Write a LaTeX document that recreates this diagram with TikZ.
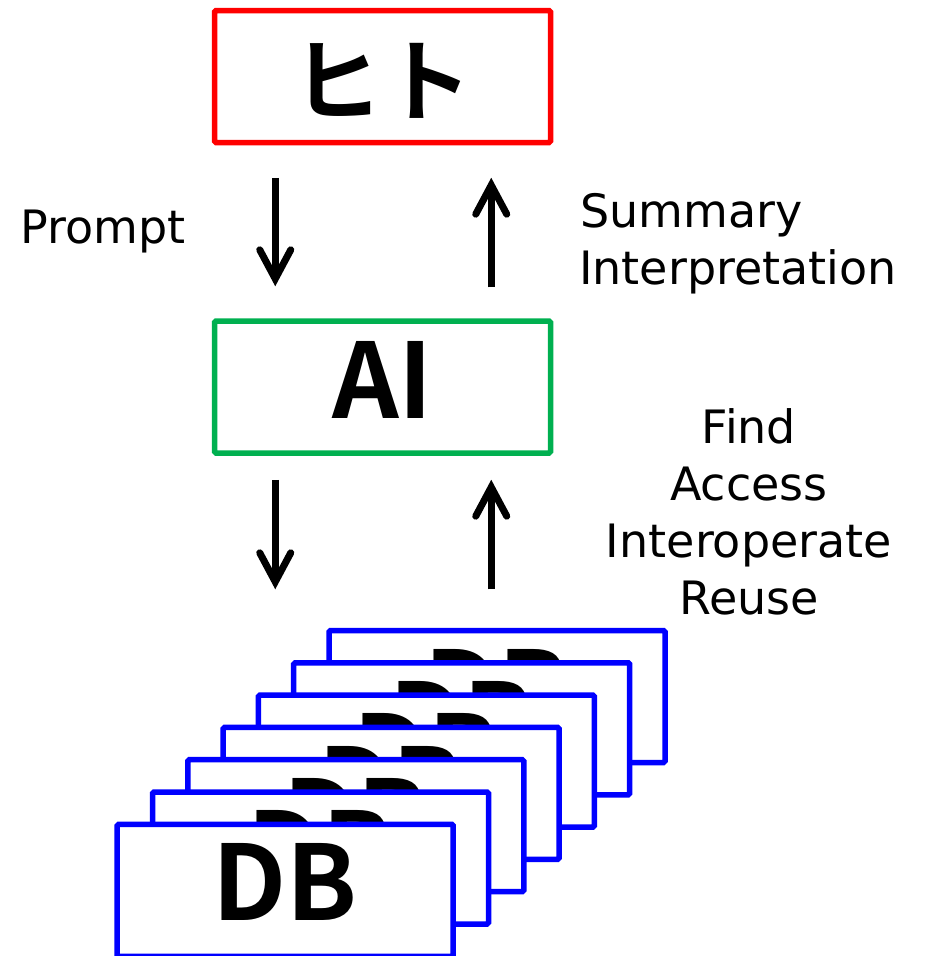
\documentclass[tikz,border=0pt]{standalone}
\usepackage{fontspec}
\setmainfont{DejaVu Sans}
\newfontfamily\jpbold{Noto Sans CJK JP Bold}
\usetikzlibrary{arrows.meta}
\definecolor{boxred}{RGB}{255,0,0}
\definecolor{boxgreen}{RGB}{0,176,80}
\definecolor{boxblue}{RGB}{0,0,255}

\begin{document}
\begin{tikzpicture}[x=1pt,y=-1pt,
  frame/.style={draw, line width=5.5pt, fill=white, rounded corners=1.5pt,
    minimum width=336pt, minimum height=132pt, inner sep=0pt,
    font=\jpbold\fontsize{104}{104}\selectfont},
  flow/.style={line width=7pt,
    -{Straight Barb[length=29pt,width=31pt,line cap=round]}},
  lbl/.style={inner sep=0pt, font=\fontsize{46}{57}\selectfont}]
\useasboundingbox (0,0) rectangle (938,956);

% top and middle boxes
\node[frame, draw=boxred, text height=76pt, text depth=0pt,
  font=\jpbold\fontsize{90}{90}\selectfont] (hito) at (382.5,76.5) {ヒト};
\node[frame, draw=boxgreen, text height=62pt, text depth=0pt] (ai) at (382.5,387) {AI};

% stack of databases, drawn from the back to the front
\foreach \i in {6,5,...,0}
  \node[frame, draw=boxblue, text height=59.4pt, text depth=0pt]
    (db\i) at ({285.2+35.3*\i},{890.3-32.3*\i}) {DB};

% arrows between the layers
\draw[flow] ([shift={(63.5,32.5)}]hito.south west) -- ([shift={(63.5,-32)}]ai.north west);
\draw[flow] ([shift={(279.5,-31)}]ai.north west) -- ([shift={(279.5,32.5)}]hito.south west);
\draw[flow] ([shift={(63.5,24)}]ai.south west) -- ([shift={(-51,-38.5)}]db6.north west);
\draw[flow] ([shift={(165,-38.5)}]db6.north west) -- ([shift={(279.5,24)}]ai.south west);

% labels
\node[lbl, anchor=base west] (prompt) at (20.5,243) {Prompt};
\node[lbl, anchor=base west] (summary) at (580,227) {Summary};
\node[lbl, anchor=base west] (interp) at (579,284) {Interpretation};
\node[lbl, anchor=base] (find) at (749,443) {Find};
\node[lbl, anchor=base] (access) at (749,500) {Access};
\node[lbl, anchor=base] (interop) at (749,557) {Interoperate};
\node[lbl, anchor=base] (reuse) at (749,614) {Reuse};
\end{tikzpicture}
\end{document}
